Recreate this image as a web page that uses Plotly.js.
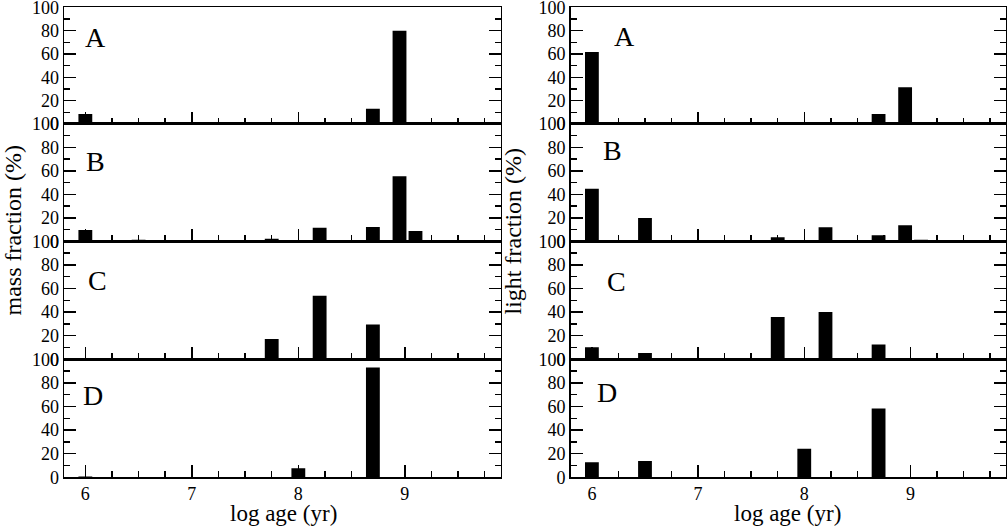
<!DOCTYPE html>
<html>
<head>
<meta charset="utf-8">
<script src="https://cdn.plot.ly/plotly-3.0.1.min.js"></script>
<style>
  html, body { margin: 0; padding: 0; background: #fff; }
  #graph { width: 1007px; height: 526px; }
</style>
</head>
<body>
<div id="graph"></div>
<script>
// log age bins (yr) used by every panel
var logAges = [6.0, 6.5, 7.75, 8.0, 8.2, 8.7, 8.95, 9.1];

// mass fraction (%) per model, left column
var massA = [8.6, 0, 0, 0, 0, 13.1, 80.0, 0];
var massB = [9.7, 1.4, 2.2, 0, 11.6, 12.2, 55.5, 8.8];
var massC = [1.0, 0.5, 17.3, 0, 53.8, 29.6, 0, 0];
var massD = [0.7, 0.3, 0, 7.7, 0, 93.0, 0, 0];

// light fraction (%) per model, right column
var lightA = [61.6, 0, 0, 0, 0, 8.6, 31.5, 0];
var lightB = [44.7, 19.9, 3.4, 0, 12.0, 5.1, 13.7, 1.4];
var lightC = [10.2, 5.4, 35.9, 0, 40.2, 12.5, 0, 0];
var lightD = [12.8, 13.9, 0, 24.2, 0, 58.4, 0, 0];

var panelNames = ['A', 'B', 'C', 'D'];
var xTickVals = [6, 7, 8, 9];

var serif = "'Liberation Serif', 'Times New Roman', serif";

// panel boxes in paper units (rows top to bottom)
var rowDomains = [[0.7643, 0.9861], [0.5412, 0.7643], [0.3169, 0.5412], [0.0926, 0.3169]];
var colDomains = [[0.0636, 0.4972], [0.5667, 0.999]];

// where the panel letters sit, in data units of each panel
var letterPos = [
    [[6.10, 74], [6.10, 68], [6.11, 67], [6.07, 69]],
    [[6.31, 75], [6.19, 77], [6.235, 66], [6.14, 72]]
];

var columns = [[massA, massB, massC, massD], [lightA, lightB, lightC, lightD]];

var traces = [];
var layout = {
    width: 1007,
    height: 526,
    margin: {l: 0, r: 0, t: 0, b: 0},
    paper_bgcolor: '#fff',
    plot_bgcolor: '#fff',
    showlegend: false,
    font: {family: serif, color: '#000', size: 18},
    annotations: []
};

for (var c = 0; c < 2; c++) {
    for (var r = 0; r < 4; r++) {
        var n = c * 4 + r + 1;
        var suffix = n === 1 ? '' : String(n);
        traces.push({
            type: 'bar',
            x: logAges,
            y: columns[c][r],
            width: 0.13,
            marker: {color: '#000', line: {width: 0}},
            xaxis: 'x' + suffix,
            yaxis: 'y' + suffix,
            hoverinfo: 'x+y'
        });

        layout['xaxis' + suffix] = {
            domain: colDomains[c],
            anchor: 'y' + suffix,
            range: [5.8, 9.9],
            tickmode: 'array',
            tickvals: xTickVals,
            ticks: 'inside',
            ticklen: 12,
            tickwidth: 1.5,
            tickcolor: '#000',
            minor: {dtick: 0.25, ticks: 'inside', ticklen: 6, tickwidth: 1.5, tickcolor: '#000'},
            showticklabels: r === 3,
            tickfont: {family: serif, size: 18, color: '#000'},
            ticklabeloverflow: 'allow',
            showline: true,
            linecolor: '#000',
            linewidth: 1.5,
            mirror: true,
            showgrid: false,
            zeroline: false
        };

        layout['yaxis' + suffix] = {
            domain: rowDomains[r],
            anchor: 'x' + suffix,
            range: [0, 100],
            tickmode: 'linear',
            tick0: 0,
            dtick: 20,
            ticks: 'inside',
            ticklen: 12,
            tickwidth: 1.5,
            tickcolor: '#000',
            minor: {dtick: 10, ticks: 'inside', ticklen: 6, tickwidth: 1.5, tickcolor: '#000'},
            tickfont: {family: serif, size: 18, color: '#000'},
            ticklabeloverflow: 'allow',
            showline: true,
            linecolor: '#000',
            linewidth: 1.5,
            mirror: 'ticks',
            showgrid: false,
            zeroline: false
        };

        layout.annotations.push({
            text: panelNames[r],
            xref: 'x' + suffix,
            yref: 'y' + suffix,
            x: letterPos[c][r][0],
            y: letterPos[c][r][1],
            xanchor: 'center',
            yanchor: 'middle',
            showarrow: false,
            font: {family: serif, size: 28, color: '#000'}
        });
    }
}

// axis titles shared by each column
layout.annotations.push(
    {text: 'log age (yr)', xref: 'paper', yref: 'paper', x: 0.282, y: 0.0247,
     xanchor: 'center', yanchor: 'middle',
     showarrow: false, font: {family: serif, size: 23, color: '#000'}},
    {text: 'log age (yr)', xref: 'paper', yref: 'paper', x: 0.7825, y: 0.0247,
     xanchor: 'center', yanchor: 'middle',
     showarrow: false, font: {family: serif, size: 23, color: '#000'}},
    {text: 'mass fraction (%)', xref: 'paper', yref: 'paper', x: 0.0134, y: 0.5627,
     xanchor: 'center', yanchor: 'middle',
     textangle: -90, showarrow: false, font: {family: serif, size: 24, color: '#000'}},
    {text: 'light fraction (%)', xref: 'paper', yref: 'paper', x: 0.5094, y: 0.5617,
     xanchor: 'center', yanchor: 'middle',
     textangle: -90, showarrow: false, font: {family: serif, size: 24, color: '#000'}}
);

Plotly.newPlot('graph', traces, layout, {staticPlot: true});
</script>
</body>
</html>
